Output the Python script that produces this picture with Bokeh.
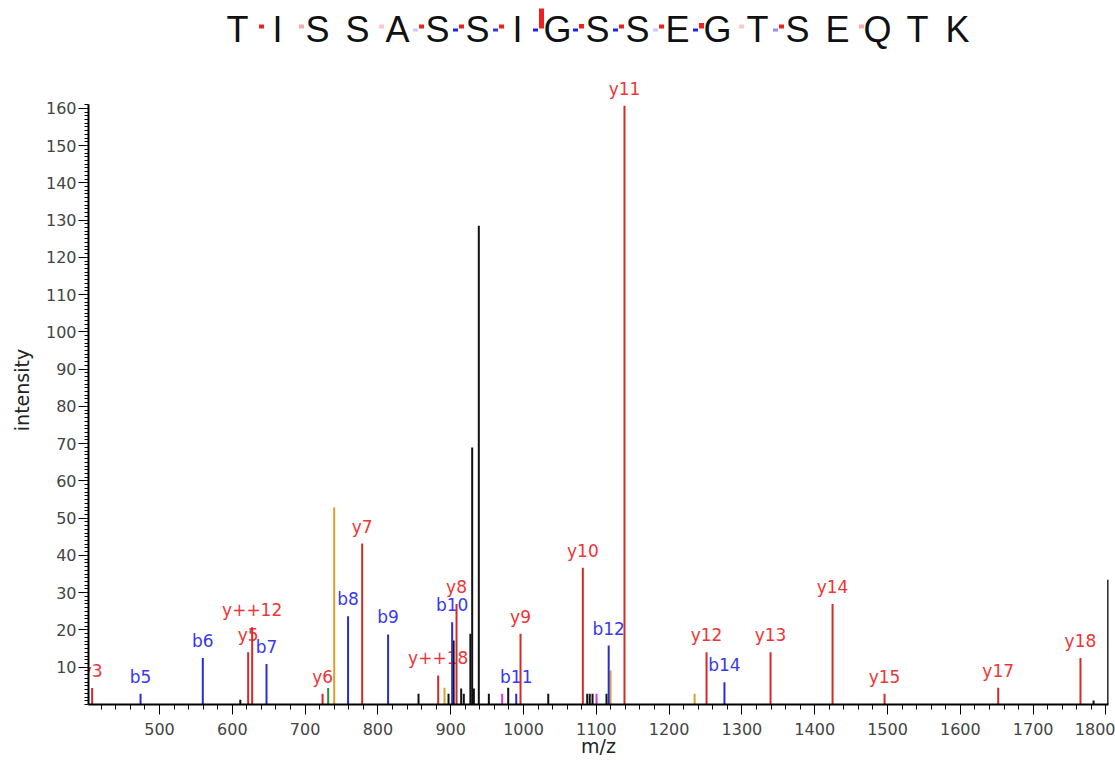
from bokeh.plotting import figure
from bokeh.layouts import column
from bokeh.models import FixedTicker, ColumnDataSource, Range1d
from bokeh.core.properties import value
from bokeh.embed import file_html
from bokeh.resources import INLINE

# ---------------- data ----------------
sequence = list("TISSASSIGSSEGTSEQTK")

y_labels = ["y3", "y5", "y++12", "y6", "y7", "y++18", "y8", "y9", "y10", "y11",
            "y12", "y13", "y14", "y15", "y17", "y18"]
y_mz = [407.5, 621.8, 627.3, 724.0, 778.4, 882.8, 908.0, 995.9, 1081.5, 1138.7,
        1251.4, 1339.3, 1424.5, 1495.9, 1652.0, 1765.0]
y_int = [4.4, 14.0, 20.7, 2.9, 43.2, 7.8, 27.0, 19.0, 36.7, 160.7,
         14.0, 14.0, 27.0, 2.9, 4.5, 12.5]

b_labels = ["b5", "b6", "b7", "b8", "b9", "b10", "b11", "b12", "b14"]
b_mz = [474.0, 559.5, 647.0, 759.0, 814.0, 902.0, 990.0, 1117.0, 1276.0]
b_int = [2.9, 12.5, 10.9, 23.7, 18.8, 22.1, 2.9, 15.8, 6.0]

orange_mz = [740.0, 891.5, 1119.5, 1235.0]
orange_int = [52.9, 4.5, 9.1, 2.9]
green_mz = [731.7]
green_int = [4.4]
magenta_mz = [970.7, 1100.3]
magenta_int = [2.9, 2.9]
other_mz = [611.0, 855.8, 897.0, 904.0, 914.4, 918.0, 927.0, 929.5, 931.8, 938.6,
            952.4, 979.0, 1034.0, 1087.5, 1091.0, 1094.8, 1114.0, 1783.0, 1803.0]
other_int = [1.3, 2.9, 2.9, 17.2, 4.3, 2.9, 19.0, 69.0, 4.3, 128.5,
             2.9, 4.5, 2.9, 2.9, 2.9, 2.9, 2.9, 1.1, 33.5]

x_ticks = list(range(500, 1801, 100))
x_minor_ticks = list(range(420, 1801, 20))
y_ticks = list(range(10, 161, 10))
y_minor_ticks = list(range(0, 162))

RED_BAR, RED_TXT = "#d42a2a", "#ee3535"
BLUE_BAR, BLUE_TXT = "#2c2cd2", "#3838f0"
SEQ_FONT = value("Liberation Sans")
LBL_FONT = value("DejaVu Sans")

# ---------------- main spectrum ----------------
p = figure(width=1115, height=700, x_range=Range1d(402.5, 1803.5),
           y_range=Range1d(0, 168.8), output_backend="svg", toolbar_location=None,
           min_border_left=88, min_border_right=7, min_border_top=15,
           min_border_bottom=56)
p.xgrid.visible = False
p.ygrid.visible = False
p.outline_line_color = None

ysrc = ColumnDataSource(dict(mz=y_mz, inten=y_int, label=y_labels))
bsrc = ColumnDataSource(dict(mz=b_mz, inten=b_int, label=b_labels))

for src, col in ((ysrc, RED_TXT), (bsrc, BLUE_TXT)):
    p.text(x="mz", y="inten", text="label", source=src, text_color=col,
           text_font=LBL_FONT, text_font_size="17px", text_align="center",
           text_baseline="alphabetic", y_offset=-17)

p.segment(x0="mz", y0=0, x1="mz", y1="inten", source=ColumnDataSource(
    dict(mz=other_mz, inten=other_int)), line_color="#111111", line_width=2)
p.segment(x0="mz", y0=0, x1="mz", y1="inten", source=ColumnDataSource(
    dict(mz=orange_mz, inten=orange_int)), line_color="#d9a030", line_width=2)
p.segment(x0="mz", y0=0, x1="mz", y1="inten", source=ColumnDataSource(
    dict(mz=green_mz, inten=green_int)), line_color="#2f8f2f", line_width=2)
p.segment(x0="mz", y0=0, x1="mz", y1="inten", source=ColumnDataSource(
    dict(mz=magenta_mz, inten=magenta_int)), line_color="#dd33dd", line_width=2)
p.segment(x0="mz", y0=0, x1="mz", y1="inten", source=bsrc,
          line_color=BLUE_BAR, line_width=2)
p.segment(x0="mz", y0=0, x1="mz", y1="inten", source=ysrc,
          line_color=RED_BAR, line_width=2)

xa = p.xaxis[0]
xa.ticker = FixedTicker(ticks=x_ticks, minor_ticks=x_minor_ticks)
xa.axis_label = "m/z"
ya = p.yaxis[0]
ya.ticker = FixedTicker(ticks=y_ticks, minor_ticks=y_minor_ticks)
ya.axis_label = "intensity"
ya.bounds = (0, 161)

for ax in (xa, ya):
    ax.axis_line_color = "black"
    ax.axis_line_width = 2
    ax.major_tick_line_color = "black"
    ax.minor_tick_line_color = "black"
    ax.major_tick_in = 0
    ax.minor_tick_in = 0
    ax.major_tick_out = 10
    ax.major_label_text_font = "DejaVu Sans"
    ax.major_label_text_font_size = "16px"
    ax.major_label_text_color = "#444444"
    ax.axis_label_text_font = "DejaVu Sans"
    ax.axis_label_text_font_size = "19px"
    ax.axis_label_text_font_style = "normal"
    ax.axis_label_text_color = "#222222"
xa.minor_tick_out = 5
ya.minor_tick_out = 4
xa.major_label_standoff = 8
xa.axis_label_standoff = -3
ya.major_label_standoff = 2
ya.axis_label_standoff = 10

# ---------------- sequence header ----------------
s = figure(width=1115, height=60, x_range=Range1d(-3.725, 21.775),
           y_range=Range1d(0, 60), output_backend="svg", toolbar_location=None,
           x_axis_location=None, y_axis_location=None,
           min_border_left=88, min_border_right=7, min_border_top=0,
           min_border_bottom=0)
s.xgrid.visible = False
s.ygrid.visible = False
s.outline_line_color = None

s.text(x=list(range(len(sequence))), y=[31] * len(sequence), text=sequence,
       text_font=SEQ_FONT, text_font_size="36px", text_align="center",
       text_baseline="alphabetic", text_color="#111111")

n_res = len(sequence)
BASE = 32
mk_left, mk_right, mk_bottom, mk_top, mk_color, mk_alpha = [], [], [], [], [], []
for lab, inten in zip(y_labels, y_int):
    if "++" in lab:
        continue
    n = int(lab[1:])
    gap = (n_res - 1 - n) + 0.5
    h = max(4.0, 0.125 * inten)
    mk_left.append(gap + 0.1 - 0.0625)
    mk_right.append(gap + 0.1 + 0.0625)
    mk_bottom.append(BASE)
    mk_top.append(BASE + h)
    mk_color.append("#ee2020")
    mk_alpha.append(min(1.0, max(0.2, inten / 12.0)))
for lab, inten in zip(b_labels, b_int):
    n = int(lab[1:])
    gap = (n - 1) + 0.5
    h = max(3.0, 0.125 * inten)
    mk_left.append(gap - 0.05 - 0.0625)
    mk_right.append(gap - 0.05 + 0.0625)
    mk_bottom.append(BASE - h)
    mk_top.append(BASE)
    mk_color.append("#2020ee")
    mk_alpha.append(min(1.0, max(0.2, inten / 12.0)))

s.quad(left="l", right="r", bottom="b", top="t", fill_color="c", fill_alpha="a",
       line_color=None, source=ColumnDataSource(dict(
           l=mk_left, r=mk_right, b=mk_bottom, t=mk_top, c=mk_color, a=mk_alpha)))

layout = column(s, p, spacing=0)
open("out.html", "w").write(file_html(layout, INLINE))
